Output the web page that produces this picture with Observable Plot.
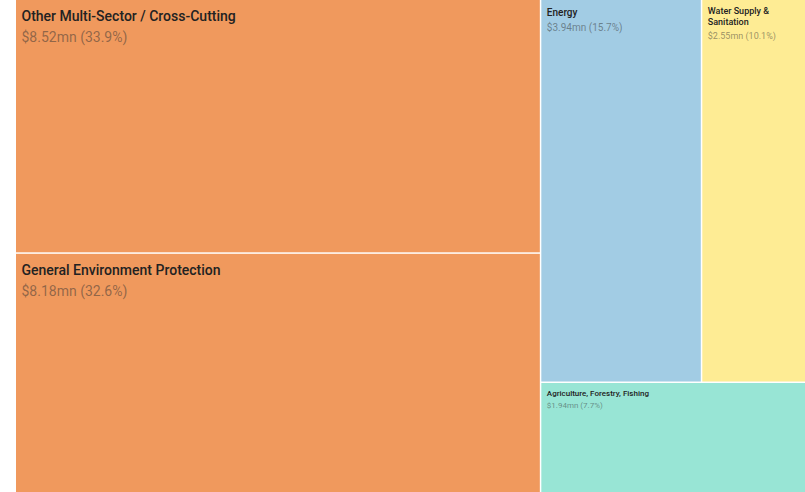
<!DOCTYPE html>
<html>
<head>
<meta charset="utf-8">
<script src="https://cdn.jsdelivr.net/npm/d3@7"></script>
<script src="https://cdn.jsdelivr.net/npm/@observablehq/plot@0.6"></script>
<style>
  html, body { margin: 0; padding: 0; overflow: hidden; background: #fff; }
  #chart svg { display: block; }
</style>
</head>
<body>
<div id="chart"></div>
<script>
const sectors = [
  "Other Multi-Sector / Cross-Cutting",
  "General Environment Protection",
  "Energy",
  "Water Supply & Sanitation",
  "Agriculture, Forestry, Fishing"
];
const amounts = [8.52, 8.18, 3.94, 2.55, 1.94]; // $ millions
const colors = ["#F0995D", "#F0995D", "#A2CCE4", "#FEEC94", "#98E5D5"];
const titleLines = [
  ["Other Multi-Sector / Cross-Cutting"],
  ["General Environment Protection"],
  ["Energy"],
  ["Water Supply &", "Sanitation"],
  ["Agriculture, Forestry, Fishing"]
];
const fontSizes = [14, 14, 10, 9, 8];

const W = 789, H = 496, left = 16;
const total = d3.sum(amounts);

const leaf = i => ({name: sectors[i], value: amounts[i], i});
// Nested grouping as in the reference layout
const tree = {children: [
  {children: [leaf(0), leaf(1)]},
  {children: [
    {children: [leaf(2), leaf(3)]},
    leaf(4)
  ]}
]};

const root = d3.hierarchy(tree).sum(d => d.value || 0);
d3.treemap().size([W, H]).paddingInner(1.5).tile(d3.treemapSliceDice)(root);
const leaves = root.leaves().map(l => ({
  x0: l.x0, x1: l.x1, y0: l.y0, y1: l.y1,
  i: l.data.i,
  name: l.data.name,
  value: l.data.value
}));

const titles = [];
const values = [];
for (const d of leaves) {
  const fs = fontSizes[d.i];
  const lines = titleLines[d.i];
  const lh = fs * 1.2;
  const top = d.y0 + fs * 0.6 + 2;
  lines.forEach((t, k) => {
    titles.push({x: d.x0 + 5, y: top + k * lh, text: t, fs});
  });
  values.push({
    x: d.x0 + 5,
    y: top + lines.length * lh + fs * 0.3,
    text: `$${d.value.toFixed(2)}mn (${(d.value / total * 100).toFixed(1)}%)`,
    fs
  });
}

const chart = Plot.plot({
  width: 805,
  height: H,
  margin: 0,
  x: {domain: [0, W], range: [left, left + W], axis: null},
  y: {domain: [0, H], range: [0, H], axis: null},
  style: {fontFamily: "Roboto, 'Noto Sans', sans-serif", background: "#fff"},
  marks: [
    Plot.rect(leaves, {x1: "x0", x2: "x1", y1: "y0", y2: "y1", fill: d => colors[d.i]}),
    Plot.text(titles, {x: "x", y: "y", text: "text", fontSize: "fs", textAnchor: "start", lineAnchor: "top", fill: "#222", fontWeight: 500}),
    Plot.text(values, {x: "x", y: "y", text: "text", fontSize: "fs", textAnchor: "start", lineAnchor: "top", fill: "#333", fillOpacity: 0.5})
  ]
});
document.getElementById("chart").appendChild(chart);
</script>
</body>
</html>
